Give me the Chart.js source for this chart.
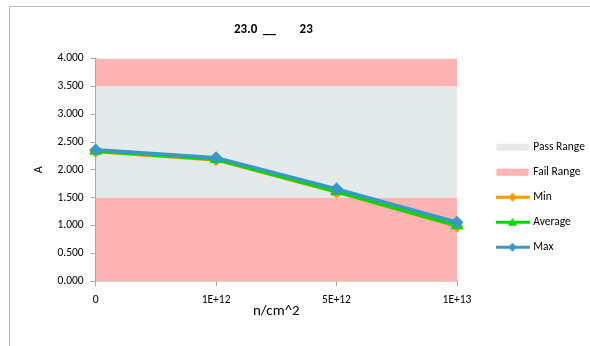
<!DOCTYPE html>
<html>
<head>
<meta charset="utf-8">
<script src="https://cdn.jsdelivr.net/npm/chart.js@4.4.0/dist/chart.umd.min.js"></script>
<style>
html, body { margin: 0; padding: 0; background: #fff; overflow: hidden; }
#frame { position: absolute; left: 9px; top: 6px; width: 700px; height: 400px; border: 1px solid #bcbcbc; }
#wrap { position: absolute; left: 0; top: 0; width: 590px; height: 346px; }
</style>
</head>
<body>
<div id="frame"></div>
<div id="wrap"><canvas id="mycanvas"></canvas></div>
<script>
// chart data
var fluence = ['0', '1E+12', '5E+12', '1E+13'];
var minVals = [2.33, 2.18, 1.60, 0.99];
var avgVals = [2.34, 2.19, 1.61, 1.00];
var maxVals = [2.36, 2.22, 1.66, 1.06];
var passRange = [1.5, 3.5];
var failLow = [0, 1.5];
var failHigh = [3.5, 4.0];
var yMin = 0, yMax = 4.0, yStep = 0.5;

var FONT = 'Carlito, Lato, "Open Sans", sans-serif';
var colMin = '#FF9A00', colAvg = '#00D800', colMax = '#3A97CB';
var colPass = '#E4EAEA', colFail = '#FFB3B3';

function icon(color, marker) {
	var c = document.createElement('canvas');
	c.width = 34; c.height = 11;
	var g = c.getContext('2d');
	if (!marker) {
		g.fillStyle = color;
		g.fillRect(1, 2, 32, 7);
		return c;
	}
	g.strokeStyle = color;
	g.fillStyle = color;
	g.lineWidth = 3;
	g.beginPath(); g.moveTo(0, 5.5); g.lineTo(34, 5.5); g.stroke();
	g.beginPath();
	if (marker == 'tri') {
		g.moveTo(17, 1); g.lineTo(21.5, 9); g.lineTo(12.5, 9);
	} else {
		g.moveTo(17, 1); g.lineTo(21.5, 5.5); g.lineTo(17, 10); g.lineTo(12.5, 5.5);
	}
	g.closePath(); g.fill();
	return c;
}

function band(v) { return fluence.map(function(){ return v; }); }

var lineBase = { type: 'line', borderWidth: 3.5, tension: 0, pointRadius: 4, pointHoverRadius: 4, fill: false };

var chartdata = {
	labels: fluence,
	datasets: [
		Object.assign({}, lineBase, { label: 'Max', data: maxVals, borderColor: colMax, backgroundColor: colMax, pointStyle: 'rectRot' }),
		Object.assign({}, lineBase, { label: 'Average', data: avgVals, borderColor: colAvg, backgroundColor: colAvg, pointStyle: 'triangle' }),
		Object.assign({}, lineBase, { label: 'Min', data: minVals, borderColor: colMin, backgroundColor: colMin, pointStyle: 'rectRot' }),
		{ type: 'line', label: 'Fail Range', data: band(failLow[1]), fill: { value: failLow[0] }, backgroundColor: colFail, borderWidth: 0, pointRadius: 0 },
		{ type: 'line', label: 'Pass Range', data: band(passRange[1]), fill: { value: passRange[0] }, backgroundColor: colPass, borderWidth: 0, pointRadius: 0 },
		{ type: 'line', label: 'Fail Range', data: band(failHigh[1]), fill: { value: failHigh[0] }, backgroundColor: colFail, borderWidth: 0, pointRadius: 0 }
	]
};

var legendItems = [
	{ text: 'Pass Range', pointStyle: icon(colPass), datasetIndex: 4 },
	{ text: 'Fail Range', pointStyle: icon(colFail), datasetIndex: 3 },
	{ text: 'Min', pointStyle: icon(colMin, 'dia'), datasetIndex: 2 },
	{ text: 'Average', pointStyle: icon(colAvg, 'tri'), datasetIndex: 1 },
	{ text: 'Max', pointStyle: icon(colMax, 'dia'), datasetIndex: 0 }
];

// push the legend a bit away from the plot
var shiftLegend = {
	id: 'shiftLegend',
	afterLayout: function(chart) {
		chart.legend.left += 27;
		chart.legend.right += 27;
	}
};

var ctx = document.getElementById('mycanvas');

var chart = new Chart(ctx, {
	type: 'line',
	data: chartdata,
	plugins: [shiftLegend],
	options: {
		responsive: true,
		maintainAspectRatio: false,
		animation: false,
		layout: { padding: { left: 32, right: -2, top: 22, bottom: 26 } },
		plugins: {
			tooltip: { enabled: false },
			title: {
				display: true,
				text: '23.0  __        23  ',
				fullSize: false,
				color: '#000',
				font: { family: FONT, size: 13, weight: 'bold' },
				padding: { top: 0, bottom: 21 }
			},
			legend: {
				position: 'right',
				title: { display: true, text: ' ', padding: { top: 0, bottom: 38 }, font: { size: 12 } },
				labels: {
					usePointStyle: true,
					pointStyleWidth: 30,
					padding: 13.5,
					color: '#000',
					font: { family: FONT, size: 11.5 },
					generateLabels: function() {
						return legendItems.map(function(it) {
							return { text: it.text, pointStyle: it.pointStyle, datasetIndex: it.datasetIndex, hidden: false, lineWidth: 0, fontColor: '#000' };
						});
					}
				}
			}
		},
		scales: {
			x: {
				type: 'category',
				offset: false,
				afterFit: function(scale) { scale.paddingRight = 133; },
				grid: { drawOnChartArea: false, offset: false, tickLength: 5, color: '#a6a6a6' },
				border: { color: '#a6a6a6', width: 1.5 },
				ticks: { color: '#000', font: { family: FONT, size: 11.5 }, maxRotation: 0, padding: 7 },
				title: { display: true, text: 'n/cm^2', color: '#000', font: { family: FONT, size: 15 }, padding: { top: -12, bottom: 0 } }
			},
			y: {
				min: yMin,
				max: yMax,
				grid: { drawOnChartArea: false, tickLength: 5, color: '#a6a6a6' },
				border: { color: '#a6a6a6', width: 1.5 },
				ticks: {
					stepSize: yStep,
					color: '#000',
					font: { family: FONT, size: 11.5 },
					padding: 7,
					callback: function(v) { return v.toFixed(3); }
				},
				title: { display: true, text: 'A', color: '#000', font: { family: FONT, size: 12 }, padding: { top: 0, bottom: 4 } }
			}
		}
	}
});
</script>
</body>
</html>
